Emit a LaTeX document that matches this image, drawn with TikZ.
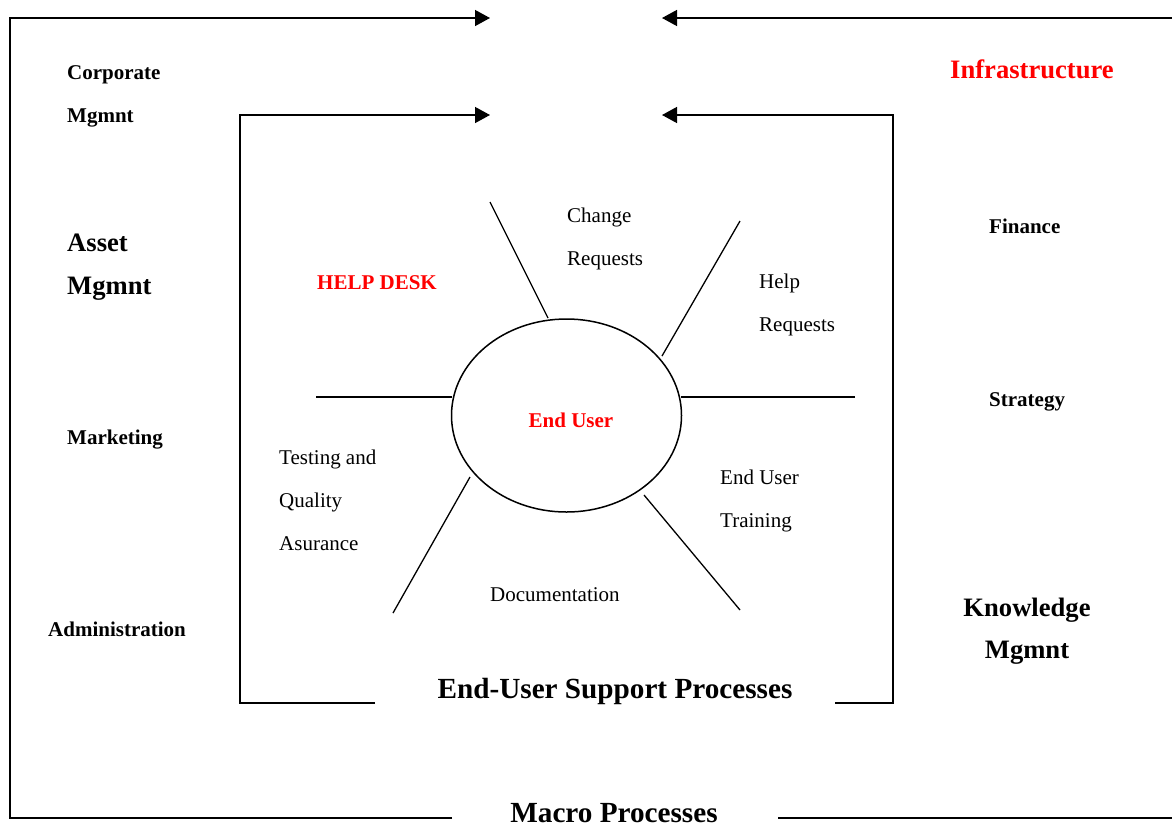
\documentclass[tikz,border=0pt]{standalone}
\usepackage{fontspec}
\setmainfont{Liberation Serif}
\usetikzlibrary{arrows.meta,shapes.geometric}
\definecolor{hdred}{RGB}{255,0,0}
\begin{document}
\begin{tikzpicture}[x=1pt,y=-1pt,
  frame/.style={line width=1.4pt},
  spoke/.style={line width=1.3pt},
  flow/.style={frame,-{Triangle[length=15pt,width=16pt]}},
  lbl/.style={inner sep=0pt,anchor=base west,font=\fontsize{21}{25}\selectfont},
  blbl/.style={lbl,font=\fontsize{21}{25}\selectfont\bfseries},
  big/.style={lbl,font=\fontsize{26.6}{30}\selectfont\bfseries},
  title/.style={inner sep=0pt,anchor=base,font=\fontsize{29.2}{34}\selectfont\bfseries},
  redtxt/.style={text=hdred}]
\useasboundingbox (0,0) rectangle (1172,823);

% outer frame: macro processes
\coordinate (oTL) at (10,18);
\coordinate (oBL) at (10,818);
\coordinate (oBM) at (452,818);
\coordinate (oBR1) at (778,818);
\coordinate (oBR2) at (1172,818);
\coordinate (oTR) at (1172,18);
\coordinate (oTipL) at (490,18);
\coordinate (oTipR) at (662,18);
\draw[flow] (oBM) -- (oBL) -- (oTL) -- (oTipL);
\draw[flow] (oTR) -- (oTipR);
\draw[frame] (oBR1) -- (oBR2);

% inner frame: end-user support processes
\coordinate (iTL) at (240,115);
\coordinate (iBL) at (240,703);
\coordinate (iBM) at (375,703);
\coordinate (iBR1) at (835,703);
\coordinate (iBR) at (893,703);
\coordinate (iTR) at (893,115);
\coordinate (iTipL) at (490,115);
\coordinate (iTipR) at (662,115);
\draw[flow] (iBM) -- (iBL) -- (iTL) -- (iTipL);
\draw[flow] (iBR1) -- (iBR) -- (iTR) -- (iTipR);

% central end user
\node[draw,ellipse,line width=1.5pt,minimum width=230pt,minimum height=193pt,inner sep=0pt] (eu) at (566.5,415.5) {};
\node[inner sep=0pt,redtxt,font=\fontsize{21}{25}\selectfont\bfseries] (eulbl) at (571,420) {End User};

% spokes
\coordinate (s1) at (490,202);  \coordinate (s1e) at (548,318);
\coordinate (s2) at (740,221);  \coordinate (s2e) at (662,356);
\coordinate (s3) at (855,397);  \coordinate (s3e) at (681,397);
\coordinate (s4) at (740,610);  \coordinate (s4e) at (644,495);
\coordinate (s5) at (393,613);  \coordinate (s5e) at (470,477);
\coordinate (s6) at (316,397);  \coordinate (s6e) at (452,397);
\foreach \s in {1,...,6} \draw[spoke] (s\s) -- (s\s e);

% process labels
\node[lbl] (chg1) at (567,222) {Change};
\node[lbl] (chg2) at (567,265) {Requests};
\node[lbl] (help1) at (759,288) {Help};
\node[lbl] (help2) at (759,331) {Requests};
\node[lbl] (trn1) at (720,484) {End User};
\node[lbl] (trn2) at (720,527) {Training};
\node[lbl] (tqa1) at (279,464) {Testing and};
\node[lbl] (tqa2) at (279,507) {Quality};
\node[lbl] (tqa3) at (279,550) {Asurance};
\node[lbl] (doc) at (490,601) {Documentation};
\node[blbl,redtxt] (hd) at (317,289) {HELP DESK};

% surrounding business areas
\node[blbl] (corp1) at (67,79) {Corporate};
\node[blbl] (corp2) at (67,122) {Mgmnt};
\node[big] (asset1) at (67,251) {Asset};
\node[big] (asset2) at (67,294) {Mgmnt};
\node[blbl] (mkt) at (67,444) {Marketing};
\node[blbl] (adm) at (48,636) {Administration};
\node[big,redtxt] (infra) at (950,78) {Infrastructure};
\node[blbl] (fin) at (989,233) {Finance};
\node[blbl] (strat) at (989,406) {Strategy};
\node[big,anchor=base] (km1) at (1027,616) {Knowledge};
\node[big,anchor=base] (km2) at (1027,658) {Mgmnt};

% frame titles
\node[title] (eusp) at (615,698) {End-User Support Processes};
\node[title] (macro) at (614,822) {Macro Processes};
\end{tikzpicture}
\end{document}
